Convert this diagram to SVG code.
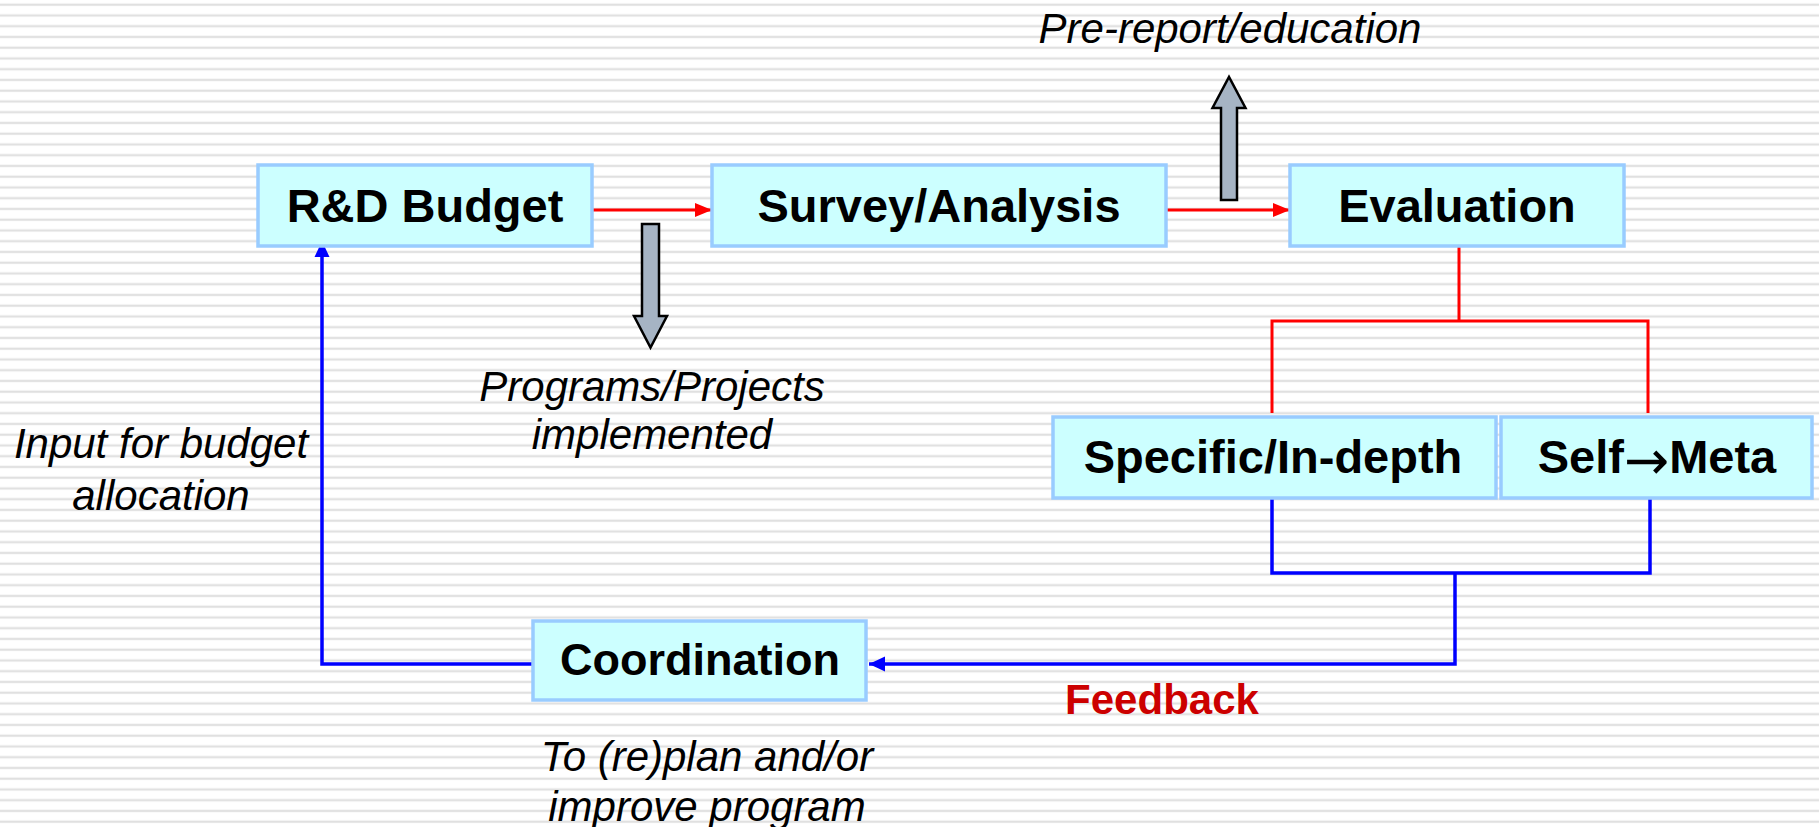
<svg xmlns="http://www.w3.org/2000/svg" width="1819" height="827" viewBox="0 0 1819 827">
<style>
.box{fill:#ccffff;stroke:#99ccff;stroke-width:3.5}
.nt{font-family:"Liberation Sans",Arial,sans-serif;font-weight:bold;font-size:47px;fill:#000;text-anchor:middle}
.it{font-family:"Liberation Sans",Arial,sans-serif;font-style:italic;font-size:42px;fill:#000;text-anchor:middle}
.fb{font-family:"Liberation Sans",Arial,sans-serif;font-weight:bold;font-size:42px;fill:#cc0000;text-anchor:middle}
.arw{font-family:"DejaVu Sans",sans-serif;font-weight:normal;font-size:54px}
.red{fill:none;stroke:#ff0000;stroke-width:3}
.blue{fill:none;stroke:#0000ff;stroke-width:3.5}
.blk{fill:#a6b4c4;stroke:#000;stroke-width:2.5;stroke-linejoin:miter}
</style>
<defs>
<pattern id="stripes" patternUnits="userSpaceOnUse" width="1819" height="10.75">
<rect x="0" y="3.4" width="1819" height="2.6" fill="#ececec"/>
<rect x="0" y="4" width="1819" height="1.4" fill="#dedede"/>
</pattern>
<marker id="ar" markerUnits="userSpaceOnUse" markerWidth="18" markerHeight="16" refX="17" refY="8" orient="auto">
<path d="M0,1 L17,8 L0,15 z" fill="#ff0000"/>
</marker>
<marker id="ab" markerUnits="userSpaceOnUse" markerWidth="18" markerHeight="18" refX="16" refY="8" orient="auto">
<path d="M0,0.5 L16,8 L0,15.5 z" fill="#0000ff"/>
</marker>
</defs>
<rect x="0" y="0" width="1819" height="827" fill="#ffffff"/>
<rect x="0" y="0" width="1819" height="827" fill="url(#stripes)"/>

<g id="connectors">
<line class="red" x1="593" y1="210" x2="712" y2="210" marker-end="url(#ar)"/>
<line class="red" x1="1167" y1="210" x2="1290" y2="210" marker-end="url(#ar)"/>
<polyline class="red" points="1459,247 1459,321"/>
<polyline class="red" points="1272,413 1272,321 1648,321 1648,413"/>
<polyline class="blue" points="1272,499 1272,573 1650,573 1650,499"/>
<polyline class="blue" points="1455,573 1455,664 869,664" marker-end="url(#ab)"/>
<polyline class="blue" points="532,664 322,664 322,241" marker-end="url(#ab)"/>
<polygon id="arrow-down" class="blk" points="642,224 659,224 659,316 667,316 650.5,347.5 634,316 642,316"/>
<polygon id="arrow-up" class="blk" points="1221,200 1237,200 1237,108 1245.5,108 1229,77 1212.5,108 1221,108"/>
</g>

<g id="node-rd-budget">
<rect class="box" x="258" y="165" width="334" height="81"/>
<text class="nt" x="425" y="222">R&amp;D Budget</text>
</g>
<g id="node-survey">
<rect class="box" x="712" y="165" width="454" height="81"/>
<text class="nt" x="939" y="222">Survey/Analysis</text>
</g>
<g id="node-evaluation">
<rect class="box" x="1290" y="165" width="334" height="81"/>
<text class="nt" x="1457" y="222">Evaluation</text>
</g>
<g id="node-specific">
<rect class="box" x="1053" y="417" width="443" height="81"/>
<text class="nt" x="1273" y="473">Specific/In-depth</text>
</g>
<g id="node-self-meta">
<rect class="box" x="1501" y="417" width="311" height="81"/>
<text class="nt" x="1657" y="473">Self<tspan class="arw" dy="6">→</tspan><tspan dy="-6">Meta</tspan></text>
</g>
<g id="node-coordination">
<rect class="box" x="533" y="621" width="333" height="79"/>
<text class="nt" x="700" y="675" style="font-size:45px">Coordination</text>
</g>

<g id="labels">
<text class="it" x="1230" y="43">Pre-report/education</text>
<text class="it" x="652" y="401">Programs/Projects</text>
<text class="it" x="652" y="449">implemented</text>
<text class="it" x="161" y="458">Input for budget</text>
<text class="it" x="161" y="510">allocation</text>
<text class="it" x="707" y="771">To (re)plan and/or</text>
<text class="it" x="707" y="821">improve program</text>
<text class="fb" x="1162" y="714">Feedback</text>
</g>
</svg>
